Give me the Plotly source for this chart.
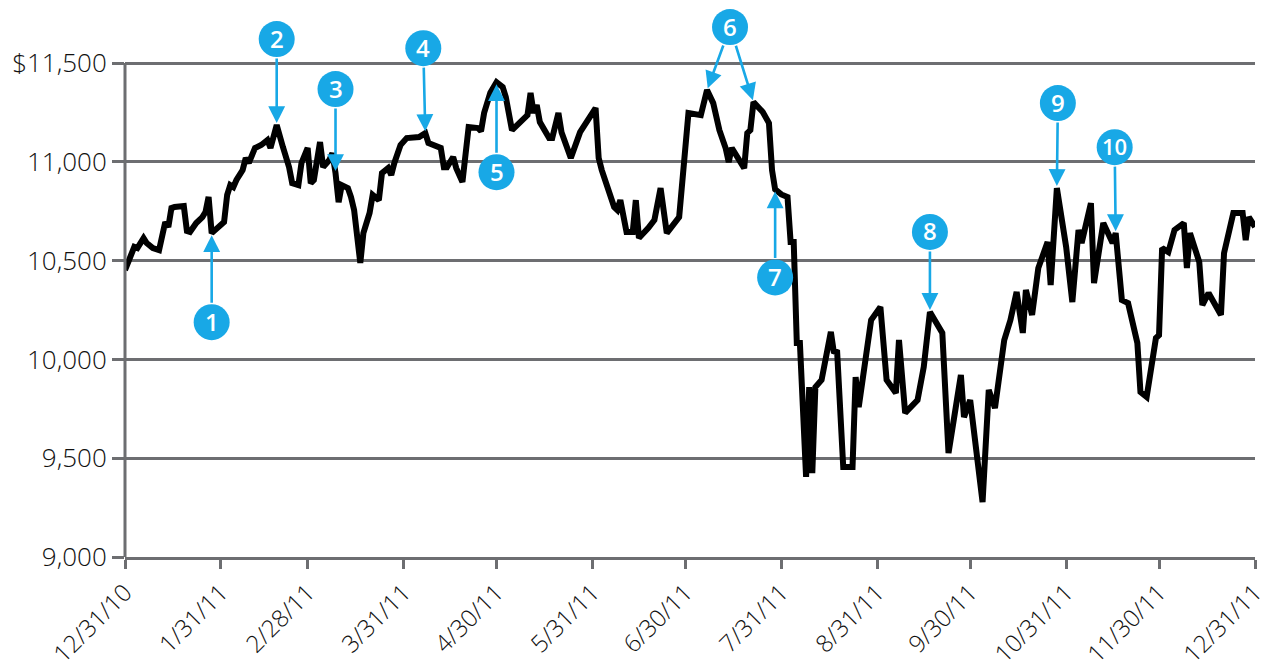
import pandas as pd
import plotly.graph_objects as go

# Daily closing value of a $10,000 portfolio through 2011
START = pd.Timestamp("2010-12-31")
DAY_OFFSET = [
    0, 2, 3, 4, 6, 7, 9, 11, 12, 13, 14, 15, 16, 19, 20, 21, 23, 25, 26, 27,
    28, 30, 32, 33, 34, 35, 36, 38, 39, 40, 42, 44, 46, 47, 48, 49, 51, 53, 54, 56,
    57, 59, 60, 61, 63, 64, 66, 67, 68, 69, 70, 72, 73, 74, 76, 77, 79, 80, 82, 83,
    85, 86, 87, 89, 91, 93, 95, 97, 98, 102, 103, 104, 106, 107, 109, 111, 114, 115, 116, 118,
    120, 122, 123, 125, 128, 130, 131, 132, 133, 134, 137, 138, 140, 141, 144, 147, 152, 153, 154, 156,
    158, 159, 160, 162, 164, 165, 166, 169, 171, 173, 175, 179, 180, 182, 186, 188, 190, 192, 194, 195,
    196, 197, 200, 201, 202, 203, 206, 208, 209, 210, 212, 214, 215, 216, 217, 218, 220, 221, 222, 223,
    225, 228, 229, 230, 232, 235, 236, 237, 241, 244, 246, 249, 250, 252, 256, 258, 260, 264, 266, 270,
    271, 273, 277, 279, 281, 284, 286, 288, 290, 291, 293, 295, 298, 299, 301, 304, 306, 308, 309, 312,
    313, 316, 319, 320, 322, 324, 327, 328, 330, 333, 334, 335, 337, 339, 342, 343, 344, 347, 348, 350,
    354, 355, 358, 361, 362, 363, 365,
]
CLOSE = [
    10452, 10528, 10569, 10563, 10614, 10589, 10563, 10553, 10639, 10695, 10670, 10766, 10771, 10776, 10650, 10645, 10690, 10720, 10746, 10822,
    10639, 10670, 10695, 10832, 10882, 10872, 10908, 10958, 11019, 10994, 11070, 11085, 11110, 11070, 11135, 11186, 11075, 10973, 10892, 10882,
    10994, 11070, 10892, 10908, 11100, 10973, 11009, 11044, 10943, 10796, 10882, 10867, 10822, 10756, 10488, 10639, 10741, 10832, 10806, 10943,
    10968, 10933, 10994, 11085, 11120, 11125, 11125, 11145, 11095, 11070, 10973, 10973, 11024, 10968, 10898, 11176, 11171, 11155, 11247, 11350,
    11403, 11378, 11328, 11160, 11211, 11236, 11348, 11247, 11287, 11201, 11120, 11120, 11247, 11150, 11019, 11150, 11272, 11019, 10958, 10857,
    10771, 10756, 10806, 10645, 10645, 10806, 10614, 10665, 10705, 10867, 10639, 10720, 10872, 11247, 11236, 11363, 11297, 11160, 11070, 10999,
    11070, 11044, 10968, 11145, 11160, 11302, 11252, 11196, 10958, 10860, 10835, 10822, 10594, 10594, 10083, 10083, 9405, 9860, 9425, 9860,
    9896, 10139, 10032, 10047, 9455, 9455, 9911, 9759, 10199, 10265, 9896, 9830, 10098, 9729, 9794, 9961, 10240, 10134, 9526, 9921,
    9708, 9794, 9278, 9845, 9754, 10098, 10199, 10341, 10134, 10351, 10225, 10462, 10594, 10376, 10867, 10569, 10290, 10655, 10589, 10791,
    10386, 10690, 10589, 10639, 10300, 10285, 10083, 9835, 9810, 10108, 10123, 10563, 10543, 10655, 10690, 10462, 10639, 10493, 10275, 10336,
    10225, 10538, 10741, 10741, 10604, 10720, 10670,
]

# Numbered callouts: label and the day(s) of the series each one points at
CALLOUT_LABEL = ["1", "2", "3", "4", "5", "6", "7", "8", "9", "10"]
CALLOUT_DAYS = [[28], [49], [68], [97], [120], [188, 203], [210], [260], [301], [320]]

# Axis ticks
Y_TICKS = [9000, 9500, 10000, 10500, 11000, 11500]
Y_TICK_TEXT = ["9,000", "9,500", "10,000", "10,500", "11,000", "$11,500"]
X_TICKS = ["2010-12-31", "2011-01-31", "2011-02-28", "2011-03-31", "2011-04-30", "2011-05-31",
           "2011-06-30", "2011-07-31", "2011-08-31", "2011-09-30", "2011-10-31", "2011-11-30", "2011-12-31"]
X_TICK_TEXT = ["12/31/10", "1/31/11", "2/28/11", "3/31/11", "4/30/11", "5/31/11",
               "6/30/11", "7/31/11", "8/31/11", "9/30/11", "10/31/11", "11/30/11", "12/31/11"]

# ---- styling / layout ----
W, H = 1271, 670
MARGIN = dict(l=125, r=16, t=5, b=113)
Y_MIN, Y_MAX = 9000, 11793.5
GRAY = "#6d6e71"
BLUE = "#18a8e6"
INK = "#111111"
FONT = "Open Sans"
RADIUS = 18
# pixel offset of each callout badge from its first target point (right, down)
BADGE_OFFSET = [(0, 89), (0, -86), (0, -84), (-2, -85), (0, 90), (23, -63), (0, 88), (0, -80), (1, -85), (-1, -86)]

dates = START + pd.to_timedelta(DAY_OFFSET, unit="D")
value_at = dict(zip(DAY_OFFSET, CLOSE))

plot_w = W - MARGIN["l"] - MARGIN["r"]
plot_h = H - MARGIN["t"] - MARGIN["b"]
px_per_day = plot_w / 365.0
px_per_unit = plot_h / (Y_MAX - Y_MIN)

fig = go.Figure()
fig.add_trace(go.Scatter(
    x=dates, y=CLOSE, mode="lines",
    line=dict(color="black", width=6, shape="linear"),
    hoverinfo="skip", showlegend=False,
))

shapes = [
    # left axis line, from the baseline up to the top gridline
    dict(type="line", xref="paper", yref="y", x0=0, x1=0, y0=Y_MIN, y1=11500,
         line=dict(color=GRAY, width=3), layer="above"),
]
annotations = []
for label, days, (dx, dy) in zip(CALLOUT_LABEL, CALLOUT_DAYS, BADGE_OFFSET):
    d0 = days[0]
    x0 = START + pd.Timedelta(days=d0)
    y0 = value_at[d0]
    for d in days:
        xd = START + pd.Timedelta(days=d)
        yd = value_at[d]
        # tail offset from this target to the badge centre
        ax = dx - (d - d0) * px_per_day
        ay = dy + (yd - y0) * px_per_unit
        annotations.append(dict(
            x=xd, y=yd, xref="x", yref="y", text="", showarrow=True,
            ax=ax, ay=ay, arrowhead=2, arrowsize=1.3, arrowwidth=2.6,
            arrowcolor=BLUE, standoff=2, startstandoff=RADIUS,
        ))
    shapes.append(dict(
        type="circle", xref="x", yref="y", xsizemode="pixel", ysizemode="pixel",
        xanchor=x0, yanchor=y0,
        x0=dx - RADIUS, x1=dx + RADIUS, y0=-dy - RADIUS, y1=-dy + RADIUS,
        fillcolor=BLUE, line=dict(width=0), layer="above",
    ))
    annotations.append(dict(
        x=x0, y=y0, xref="x", yref="y", text=label, showarrow=False,
        xshift=dx, yshift=-dy + 1,
        font=dict(family=FONT, size=24 if len(label) == 1 else 22, color="white", weight=600),
    ))

fig.update_layout(
    width=W, height=H, margin=MARGIN,
    paper_bgcolor="white", plot_bgcolor="white",
    shapes=shapes, annotations=annotations,
    xaxis=dict(
        type="date", range=[X_TICKS[0], X_TICKS[-1]], automargin=False,
        tickmode="array", tickvals=X_TICKS, ticktext=X_TICK_TEXT, tickangle=-45,
        ticks="outside", ticklen=9, tickwidth=3, tickcolor=GRAY,
        showline=True, linewidth=3, linecolor=GRAY, showgrid=False, zeroline=False,
        tickfont=dict(family=FONT, size=24, color=INK, weight=300),
    ),
    yaxis=dict(
        range=[Y_MIN, Y_MAX], automargin=False,
        tickmode="array", tickvals=Y_TICKS, ticktext=Y_TICK_TEXT,
        ticks="outside", ticklen=12, tickwidth=3, tickcolor=GRAY,
        showgrid=True, gridcolor=GRAY, gridwidth=3, zeroline=False, showline=False,
        tickfont=dict(family=FONT, size=26, color=INK, weight=300),
    ),
)

fig.write_html("out.html")
